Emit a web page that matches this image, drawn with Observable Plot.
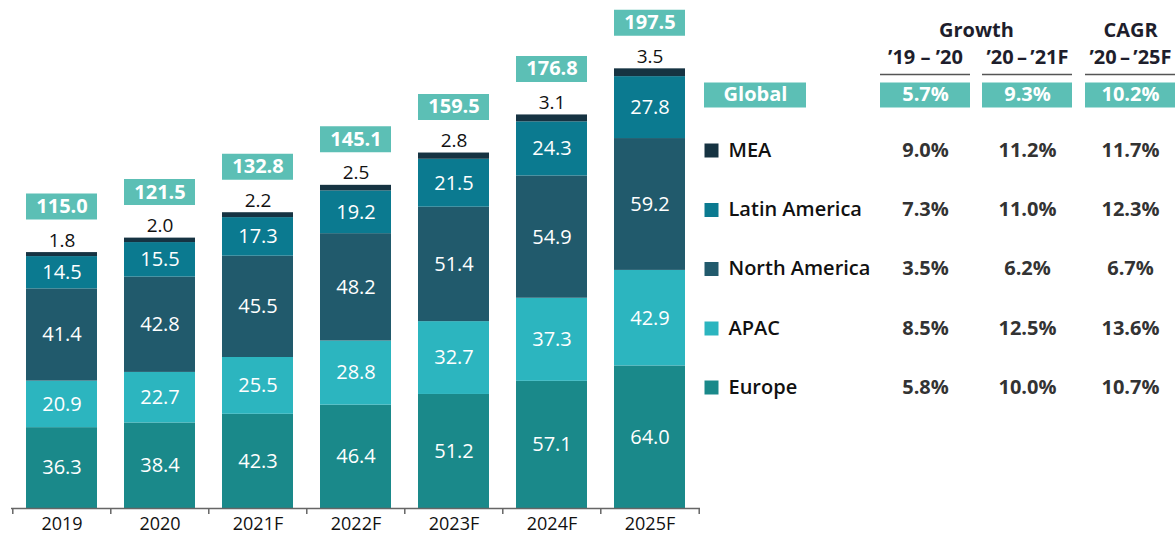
<!DOCTYPE html>
<html>
<head>
<meta charset="utf-8">
<script src="https://cdn.jsdelivr.net/npm/d3@7"></script>
<script src="https://cdn.jsdelivr.net/npm/@observablehq/plot@0.6"></script>
<style>
  html, body { margin: 0; padding: 0; background: #fff; }
  #wrap { display: flex; flex-direction: row; width: 1175px; height: 536px; font-family: "Open Sans", sans-serif; }
</style>
</head>
<body>
<div id="wrap"></div>
<script>
// ---------- data ----------
const years = ["2019", "2020", "2021F", "2022F", "2023F", "2024F", "2025F"];
const regions = ["Europe", "APAC", "North America", "Latin America", "MEA"];
const europe = [36.3, 38.4, 42.3, 46.4, 51.2, 57.1, 64.0];
const apac = [20.9, 22.7, 25.5, 28.8, 32.7, 37.3, 42.9];
const northAmerica = [41.4, 42.8, 45.5, 48.2, 51.4, 54.9, 59.2];
const latinAmerica = [14.5, 15.5, 17.3, 19.2, 21.5, 24.3, 27.8];
const mea = [1.8, 2.0, 2.2, 2.5, 2.8, 3.1, 3.5];
const totals = [115.0, 121.5, 132.8, 145.1, 159.5, 176.8, 197.5];

const tableRows = ["MEA", "Latin America", "North America", "APAC", "Europe"];
const growth1920 = [9.0, 7.3, 3.5, 8.5, 5.8];
const growth2021 = [11.2, 11.0, 6.2, 12.5, 10.0];
const cagr2025 = [11.7, 12.3, 6.7, 13.6, 10.7];
const globalValues = [5.7, 9.3, 10.2];
const globalLabel = "Global";
const groupHeaders = ["Growth", "CAGR"];
const colHeaders = ["’19 – ’20", "’20\u2009–\u2009’21F", "’20\u2009–\u2009’25F"];

// ---------- styles ----------
const colors = ["#1a898a", "#2cb5bf", "#215a6c", "#0b7a90", "#163342"];
const boxColor = "#5cbfb5";
const font = "'Open Sans', sans-serif";

const series = { "Europe": europe, "APAC": apac, "North America": northAmerica, "Latin America": latinAmerica, "MEA": mea };
const long = regions.flatMap(r => years.map((y, i) => ({ year: y, region: r, value: series[r][i] })));
const tops = years.map((y, i) => ({ year: y, sum: regions.reduce((s, r) => s + series[r][i], 0), total: totals[i], mea: mea[i] }));

const W = 700, mL = 11, mR = 0;
const step = (W - mL - mR) / years.length;

const chart = Plot.plot({
  width: W, height: 536,
  marginLeft: mL, marginRight: mR, marginTop: 18, marginBottom: 28,
  x: { domain: years, paddingInner: 0.28, paddingOuter: 0.14, axis: null },
  y: { domain: [0, 220], axis: null },
  color: { domain: regions, range: colors },
  style: { fontFamily: font, background: "white", overflow: "visible" },
  marks: [
    Plot.barY(long, { x: "year", y: "value", fill: "region" }),
    Plot.text(long.filter(d => d.region !== "MEA"), Plot.stackY({
      x: "year", y: "value", z: "region",
      text: d => d.value.toFixed(1), fill: "white", fontSize: 20
    })),
    Plot.text(tops, { x: "year", y: "sum", dy: -12, text: d => d.mea.toFixed(1), fill: "#111", fontSize: 19 }),
    Plot.tickY(tops, { x: "year", y: "sum", dy: -46, stroke: boxColor, strokeWidth: 26 }),
    Plot.text(tops, { x: "year", y: "sum", dy: -46, text: d => d.total.toFixed(1), fill: "white", fontSize: 20, fontWeight: "bold" }),
    Plot.ruleY([0], { stroke: "#666", strokeWidth: 1.5 }),
    Plot.ruleX(years, { x: d => d, y1: 0, y2: -2.7, dx: -step / 2, stroke: "#666", strokeWidth: 1.5 }),
    Plot.ruleX(years.slice(-1), { x: d => d, y1: 0, y2: -2.7, dx: step / 2, stroke: "#666", strokeWidth: 1.5 }),
    Plot.text(years, { x: d => d, y: () => 0, dy: 16, text: d => d, fill: "#111", fontSize: 18 })
  ]
});

// ---------- table ----------
const layout = {
  swatchX: 11, labelX: 28, globalX1: 4, globalX2: 106,
  colX: [225, 327, 430], boxHalf: 45,
  groupX: [276, 430], groupY: 30, headY: 57, lineY: 74,
  rowY: { "Global": 94.5, "MEA": 150, "Latin America": 209.5, "North America": 268.5, "APAC": 328, "Europe": 387 }
};
const cols = [growth1920, growth2021, cagr2025];
const cells = tableRows.flatMap((r, i) => cols.map((c, j) => ({ row: r, col: j, value: c[i] })));
const globals = globalValues.map((v, j) => ({ col: j, value: v }));

const table = Plot.plot({
  width: 475, height: 536,
  margin: 0,
  x: { type: "identity", axis: null },
  y: { type: "identity", axis: null },
  color: { domain: regions, range: colors },
  style: { fontFamily: font, background: "white", overflow: "visible" },
  marks: [
    // headers
    Plot.text(groupHeaders, { x: (d, i) => layout.groupX[i], y: () => layout.groupY, text: d => d, fontSize: 20, fontWeight: "bold", fill: "#1e1e2c" }),
    Plot.text(colHeaders, { x: (d, i) => layout.colX[i], y: () => layout.headY, text: d => d, fontSize: 20, fontWeight: "bold", fill: "#1e1e2c" }),
    Plot.ruleY(colHeaders, { y: () => layout.lineY, x1: (d, i) => layout.colX[i] - layout.boxHalf, x2: (d, i) => layout.colX[i] + layout.boxHalf, stroke: "#555", strokeWidth: 1.5 }),
    // global row
    Plot.ruleY([globalLabel], { y: d => layout.rowY[d], x1: () => layout.globalX1, x2: () => layout.globalX2, stroke: boxColor, strokeWidth: 25 }),
    Plot.text([globalLabel], { x: () => (layout.globalX1 + layout.globalX2) / 2, y: d => layout.rowY[d], text: d => d, fill: "white", fontSize: 20, fontWeight: "bold" }),
    Plot.ruleY(globals, { y: () => layout.rowY.Global, x1: d => layout.colX[d.col] - layout.boxHalf, x2: d => layout.colX[d.col] + layout.boxHalf, stroke: boxColor, strokeWidth: 25 }),
    Plot.text(globals, { x: d => layout.colX[d.col], y: () => layout.rowY.Global, text: d => d.value.toFixed(1) + "%", fill: "white", fontSize: 20, fontWeight: "bold" }),
    // legend rows
    Plot.dot(tableRows, { x: () => layout.swatchX, y: d => layout.rowY[d], symbol: "square", r: 7.9, fill: d => d }),
    Plot.text(tableRows, { x: () => layout.labelX, y: d => layout.rowY[d], text: d => d, textAnchor: "start", fontSize: 20, fontWeight: 600, fill: "#111" }),
    Plot.text(cells, { x: d => layout.colX[d.col], y: d => layout.rowY[d.row], text: d => d.value.toFixed(1) + "%", fontSize: 20, fontWeight: "bold", fill: "#333" })
  ]
});

const wrap = document.getElementById("wrap");
wrap.appendChild(chart);
wrap.appendChild(table);
</script>
</body>
</html>
